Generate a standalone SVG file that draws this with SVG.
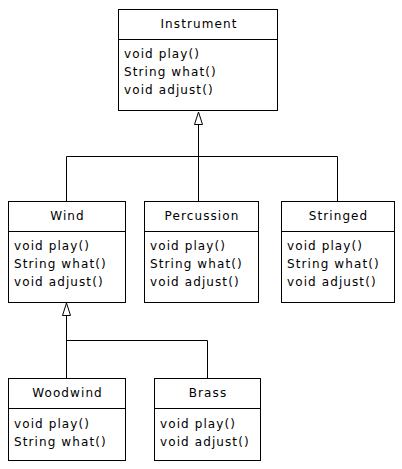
<svg xmlns="http://www.w3.org/2000/svg" width="402" height="469" viewBox="0 0 402 469">
<defs>
<style>
.box{fill:#fff;stroke:#000;stroke-width:1}
.ln{stroke:#000;stroke-width:1;fill:none}
.tri{fill:#fff;stroke:#000;stroke-width:1}
text{font-family:"DejaVu Sans","Liberation Sans",sans-serif;font-size:12px;letter-spacing:1.1px;fill:#000}
.t{text-anchor:middle}
</style>
</defs>
<rect width="402" height="469" fill="#fff"/>
<g id="connectors">
<path class="ln" d="M198.5 124.5 V156.5 M66.5 156.5 H337.5 M66.5 156.5 V201.5 M198.5 156.5 V201.5 M337.5 156.5 V201.5"/>
<path class="tri" d="M198.5 112 L202.5 124.5 L194.5 124.5 Z"/>
<path class="ln" d="M66.5 315.5 V378.5 M66.5 340.5 H207.5 V378.5"/>
<path class="tri" d="M66.5 303 L70.5 315.5 L62.5 315.5 Z"/>
</g>
<g id="Instrument">
<rect class="box" x="118.5" y="9.5" width="159" height="101"/>
<line class="ln" x1="118.5" y1="39.5" x2="277.5" y2="39.5"/>
<text class="t" x="199" y="28">Instrument</text>
<text x="124" y="58">void play()</text>
<text x="124" y="76">String what()</text>
<text x="124" y="94">void adjust()</text>
</g>
<g id="Wind">
<rect class="box" x="8.5" y="201.5" width="117" height="101"/>
<line class="ln" x1="8.5" y1="231.5" x2="125.5" y2="231.5"/>
<text class="t" x="67.5" y="220">Wind</text>
<text x="14" y="250">void play()</text>
<text x="14" y="268">String what()</text>
<text x="14" y="286">void adjust()</text>
</g>
<g id="Percussion">
<rect class="box" x="144.5" y="201.5" width="114" height="101"/>
<line class="ln" x1="144.5" y1="231.5" x2="258.5" y2="231.5"/>
<text class="t" x="202" y="220">Percussion</text>
<text x="150" y="250">void play()</text>
<text x="150" y="268">String what()</text>
<text x="150" y="286">void adjust()</text>
</g>
<g id="Stringed">
<rect class="box" x="281.5" y="201.5" width="113" height="101"/>
<line class="ln" x1="281.5" y1="231.5" x2="394.5" y2="231.5"/>
<text class="t" x="338.5" y="220">Stringed</text>
<text x="287" y="250">void play()</text>
<text x="287" y="268">String what()</text>
<text x="287" y="286">void adjust()</text>
</g>
<g id="Woodwind">
<rect class="box" x="8.5" y="378.5" width="117" height="82"/>
<line class="ln" x1="8.5" y1="408.5" x2="125.5" y2="408.5"/>
<text class="t" x="67.5" y="397">Woodwind</text>
<text x="14" y="428">void play()</text>
<text x="14" y="446">String what()</text>
</g>
<g id="Brass">
<rect class="box" x="154.5" y="378.5" width="106" height="82"/>
<line class="ln" x1="154.5" y1="408.5" x2="260.5" y2="408.5"/>
<text class="t" x="208" y="397">Brass</text>
<text x="160" y="428">void play()</text>
<text x="160" y="446">void adjust()</text>
</g>
</svg>
